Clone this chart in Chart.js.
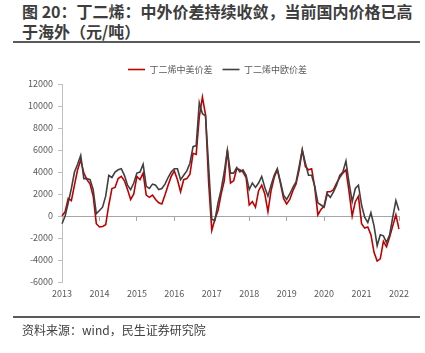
<!DOCTYPE html>
<html>
<head>
<meta charset="utf-8">
<script src="https://cdn.jsdelivr.net/npm/chart.js@4/dist/chart.umd.min.js"></script>
<style>
html,body{margin:0;padding:0;background:#fff;}
#wrap{position:relative;width:425px;height:353px;overflow:hidden;font-family:"Noto Sans CJK SC",sans-serif;}
#title{position:absolute;left:22px;top:1px;font-size:16px;font-weight:bold;line-height:20px;color:#3d3d3d;white-space:nowrap;}
.rule{position:absolute;left:13px;width:407px;height:2px;background:#5a5a5a;}
#src{position:absolute;left:22px;top:321px;font-size:12px;color:#404040;white-space:nowrap;}
canvas{position:absolute;left:0;top:0;}
</style>
</head>
<body>
<div id="wrap">
<div id="title">图 20：丁二烯：中外价差持续收敛，当前国内价格已高<br>于海外（元/吨）</div>
<div class="rule" style="top:41px"></div>
<canvas id="c" width="425" height="353"></canvas>
<div class="rule" style="top:316px"></div>
<div id="src">资料来源：wind，民生证券研究院</div>
</div>
<script>
const years = [2013,2014,2015,2016,2017,2018,2019,2020,2021,2022];
const months = [];
years.forEach(y => { for (let m = 1; m <= 12; m++) { if (y === 2022 && m > 1) break; months.push(y + '-' + String(m).padStart(2,'0')); } });

const seriesNames = ['丁二烯中美价差', '丁二烯中欧价差'];

const usSpread = [
  0, 400, 1600, 1400, 2800, 4200, 5100, 3900, 3300, 2900, 1800, -700,
  -1000, -950, -800, 1000, 2500, 2600, 3400, 3600, 3200, 2400, 1500, 2000,
  3600, 3300, 3900, 1900, 1700, 1900, 1500, 1200, 1100, 1900, 2800, 3600,
  4100, 3300, 2200, 3300, 3400, 3800, 5700, 5600, 9000, 10800, 9200, 3000,
  -1300, -300, 500, 2000, 3200, 6000, 3000, 3200, 4300, 4200, 4000, 3500,
  1000, 1300, 800, 2300, 2800, 2000, 400, 2300, 3500, 4200, 3000, 1600,
  1100, 1500, 2300, 2900, 4200, 6000, 4500, 4200, 4300, 2600, 100, 600,
  900, 2200, 2200, 2400, 3000, 3500, 3900, 4200, 2200, 0, 1300, 1800,
  -700, -1100, -1000, -1700, -3300, -4100, -3900, -2300, -2800, -1900, -900, 100,
  -1200
];

const euSpread = [
  -700, 0, 1200, 2500, 4000, 4700, 5500, 3400, 3400, 3300, 2400, 200,
  500, 800, 1800, 3700, 3500, 4000, 4200, 4300, 3700, 2800, 2400, 3000,
  3900, 4000, 4700, 2700, 2500, 2900, 2800, 2400, 2500, 2900, 3500, 4000,
  4300, 4300, 3300, 3700, 4100, 4800, 6300, 6400, 10300, 9300, 9100, 4500,
  -300, -400, 1200, 2400, 4000, 6000, 3900, 3900, 4400, 4000, 4200, 3700,
  2400, 3000, 2600, 3000, 3600, 2600, 1800, 2800, 3700, 4300, 3100, 1900,
  1500, 2000, 2600, 3100, 4500, 6000, 4800, 3700, 3700, 2700, 1200, 1000,
  800, 2000, 1700, 2200, 2800, 3700, 4000, 5000, 3000, 1300, 2500, 2800,
  1000, -100, -600, 300, -900, -2700, -1700, -1800, -2400, -1700, -100, 1400,
  500
];

const yTicks = [-6000, -4000, -2000, 0, 2000, 4000, 6000, 8000, 10000, 12000];

const tickFont = { family: '"Noto Sans CJK SC", sans-serif', size: 9 };

const legendShift = {
  id: 'legendShift',
  afterLayout(chart) {
    const lg = chart.legend;
    if (lg) { lg.left += 18; lg.right += 18; }
  }
};

new Chart(document.getElementById('c'), {
  type: 'line',
  data: {
    labels: months,
    datasets: [
      { label: seriesNames[0], data: usSpread, borderColor: '#c00000', backgroundColor: '#c00000', borderWidth: 1.6, pointRadius: 0, tension: 0, order: 2 },
      { label: seriesNames[1], data: euSpread, borderColor: '#404040', backgroundColor: '#404040', borderWidth: 1.6, pointRadius: 0, tension: 0, order: 1 }
    ]
  },
  plugins: [legendShift],
  options: {
    responsive: false,
    devicePixelRatio: 1,
    animation: false,
    layout: { padding: { top: 51, right: 26, bottom: 0, left: 0 } },
    plugins: {
      tooltip: { enabled: false },
      legend: {
        display: true,
        position: 'top',
        labels: {
          usePointStyle: true,
          pointStyle: 'line',
          pointStyleWidth: 17,
          padding: 10,
          color: '#595959',
          font: tickFont,
          sort: (a, b) => a.datasetIndex - b.datasetIndex
        }
      }
    },
    scales: {
      x: {
        type: 'category',
        position: 'bottom',
        grid: { display: false, drawTicks: false },
        border: { display: false },
        ticks: {
          autoSkip: false,
          maxRotation: 0,
          padding: 6,
          color: '#595959',
          font: tickFont,
          callback: function(v, i) { const l = this.getLabelForValue(v); return l.endsWith('-01') ? l.slice(0,4) : null; }
        },
        afterFit: s => { s.height = 71; }
      },
      x2: {
        type: 'category',
        labels: months,
        position: { y: 0 },
        grid: {
          display: true,
          drawOnChartArea: false,
          drawTicks: true,
          tickLength: 4,
          color: ctx => (ctx.index % 12 === 0 ? '#a6a6a6' : 'rgba(0,0,0,0)')
        },
        border: { display: true, color: '#a6a6a6', width: 1 },
        ticks: { display: false }
      },
      y: {
        min: yTicks[0],
        max: yTicks[yTicks.length - 1],
        afterBuildTicks: s => { s.ticks = yTicks.map(v => ({ value: v })); },
        grid: { display: true, drawOnChartArea: false, drawTicks: true, tickLength: 4, color: '#bfbfbf' },
        border: { display: true, color: '#bfbfbf' },
        ticks: { padding: 5, color: '#595959', font: tickFont, callback: v => String(v) },
        afterFit: s => { s.width = 62; s.paddingTop = 84; }
      }
    }
  }
});
</script>
</body>
</html>
